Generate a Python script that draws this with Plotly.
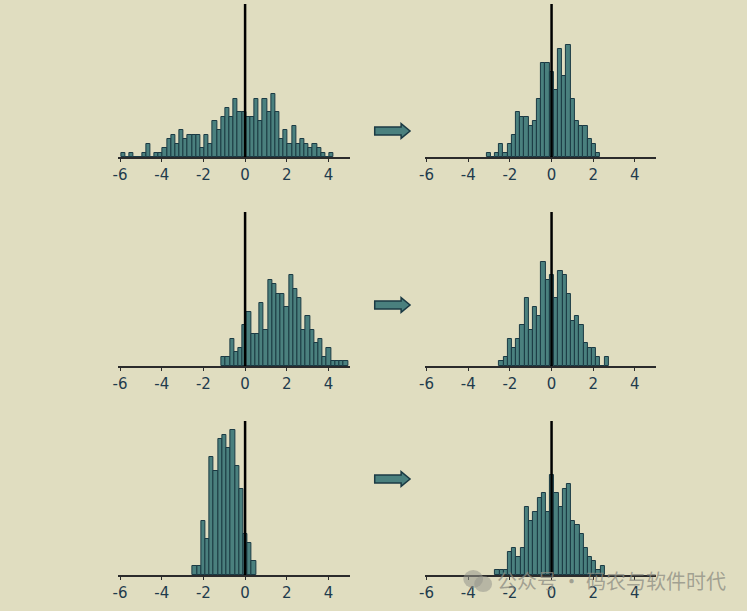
import plotly.graph_objects as go

# ---- data: histogram counts (bin start, bin width, counts) ----
tl_start, tl_width = -5.952, 0.2
tl_counts = [1,0,1,0,0,1,3,0,1,1,2,4,5,3,6,4,5,5,5,2,5,3,8,6,9,11,9,13,10,10,
             9,9,13,8,13,10,14,10,4,6,3,7,3,4,3,2,3,2,1,0,1]
tr_start, tr_width = -3.127, 0.202
tr_counts = [1,0,1,3,1,3,5,10,9,9,7,8,13,21,21,19,15,24,18,25,13,8,7,7,4,3,1]
ml_start, ml_width = -1.127, 0.202
ml_counts = [2,2,6,3,4,9,12,7,7,14,8,19,18,16,16,13,20,17,15,8,11,8,5,6,2,4,1,1,1,1]
mr_start, mr_width = -2.508, 0.202
mr_counts = [1,2,6,4,6,9,15,8,13,11,23,19,20,15,21,20,16,10,11,9,5,4,4,2,0,2]
bl_start, bl_width = -2.508, 0.202
bl_counts = [2,2,12,8,26,23,30,31,28,32,24,19,9,7,3]
br_start, br_width = -2.698, 0.202
br_counts = [1,1,1,5,6,4,6,15,12,14,17,18,14,22,18,15,19,20,12,11,9,6,4,3,1,2]

tick_vals = [-6, -4, -2, 0, 2, 4]
tick_text = ["-6", "-4", "-2", "0", "2", "4"]
x_range = [-6.08, 5.03]
y_range = [0, 34]

panels = [
    (tl_start, tl_width, tl_counts),
    (tr_start, tr_width, tr_counts),
    (ml_start, ml_width, ml_counts),
    (mr_start, mr_width, mr_counts),
    (bl_start, bl_width, bl_counts),
    (br_start, br_width, br_counts),
]

W, H = 747, 611
BG = "#e0ddc0"
FILL = "#4a807e"
EDGE = "#1b3a44"
TXT = "#1f3b4d"

col_px = [(113.3, 346.7), (422.3, 655.6)]
row_px = [(4, 157), (212, 366), (421, 575)]

fig = go.Figure()
layout = {}
shapes = []
for i, (start, width, counts) in enumerate(panels):
    r, c = divmod(i, 2)
    n = i + 1
    xa = "x" if n == 1 else f"x{n}"
    ya = "y" if n == 1 else f"y{n}"
    centers = [start + width * (k + 0.5) for k in range(len(counts))]
    fig.add_trace(go.Bar(
        x=centers, y=counts, width=width,
        marker=dict(color=FILL, line=dict(color=EDGE, width=1)),
        xaxis=xa, yaxis=ya, showlegend=False, hoverinfo="x+y"))
    x0, x1 = col_px[c]
    y0, y1 = row_px[r]
    layout[f"xaxis{'' if n == 1 else n}"] = dict(
        domain=[x0 / W, x1 / W], range=x_range, anchor=ya,
        tickmode="array", tickvals=tick_vals, ticktext=tick_text,
        showgrid=False, zeroline=False, showline=True, linecolor="#2b2b2b",
        linewidth=1.5, ticks="outside", ticklen=3, tickcolor="#2b2b2b",
        tickfont=dict(family="DejaVu Sans", size=15, color=TXT), fixedrange=True)
    layout[f"yaxis{'' if n == 1 else n}"] = dict(
        domain=[1 - y1 / H, 1 - y0 / H], range=y_range, anchor=xa,
        visible=False, showgrid=False, zeroline=False, fixedrange=True)
    shapes.append(dict(type="line", xref=xa, yref=f"{ya} domain",
                       x0=0, x1=0, y0=0, y1=1, layer="above",
                       line=dict(color="black", width=2.5)))

# block arrows between the columns (paper coords from pixel positions)
def px(xp, yp):
    return f"{xp / W:.5f},{1 - yp / H:.5f}"

for cy in [131, 305, 479]:
    pts = [(371.7, cy - 4), (398.3, cy - 4), (398.3, cy - 7.3), (407.3, cy),
           (398.3, cy + 7.3), (398.3, cy + 4), (371.7, cy + 4)]
    path = "M " + " L ".join(px(a, b) for a, b in pts) + " Z"
    shapes.append(dict(type="path", xref="paper", yref="paper", path=path,
                       fillcolor=FILL, line=dict(color=EDGE, width=1.5)))

# watermark icon (approximate)
shapes.append(dict(type="circle", xref="paper", yref="paper",
                   x0=461 / W, x1=481 / W, y0=1 - 588 / H, y1=1 - 570 / H,
                   fillcolor="rgba(150,150,140,0.55)", line=dict(width=0)))
shapes.append(dict(type="circle", xref="paper", yref="paper",
                   x0=472 / W, x1=490 / W, y0=1 - 592 / H, y1=1 - 576 / H,
                   fillcolor="rgba(150,150,140,0.55)", line=dict(width=0)))

fig.update_layout(
    width=W, height=H, margin=dict(l=0, r=0, t=0, b=0),
    paper_bgcolor=BG, plot_bgcolor=BG, bargap=0, shapes=shapes,
    annotations=[dict(text="公众号 · 码农与软件时代", xref="paper", yref="paper",
                      x=493 / W, y=1 - 580 / H, xanchor="left", yanchor="middle",
                      showarrow=False,
                      font=dict(family="Noto Sans CJK SC", size=20,
                                color="rgba(140,140,130,0.75)"))],
    **layout)

fig.write_html("out.html", config={"displayModeBar": False})

# remove the default page margin so the figure sits at the window's corner
with open("out.html", encoding="utf-8") as f:
    html = f.read()
html = html.replace(
    "<head>",
    f"<head><style>html,body{{margin:0;padding:0;overflow:hidden;background:{BG};}}</style>",
    1)
with open("out.html", "w", encoding="utf-8") as f:
    f.write(html)
